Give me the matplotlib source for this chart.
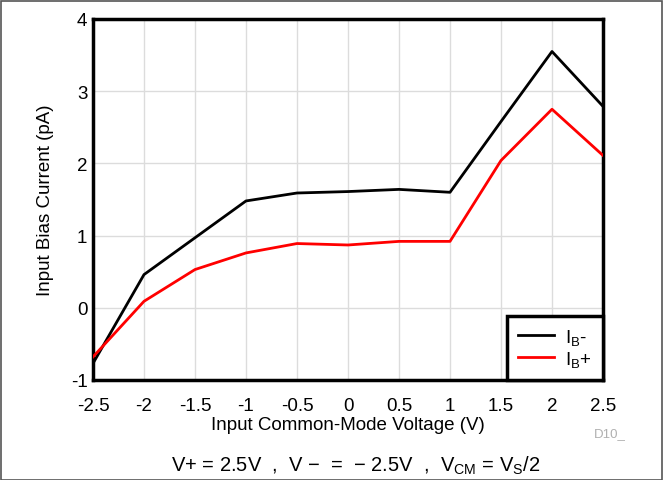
import matplotlib
matplotlib.use("Agg")
import matplotlib.pyplot as plt
from matplotlib.patches import Rectangle

plt.rcParams['font.family'] = ['Liberation Sans', 'DejaVu Sans']
plt.rcParams['mathtext.fontset'] = 'custom'
plt.rcParams['mathtext.rm'] = 'Liberation Sans'
plt.rcParams['mathtext.it'] = 'Liberation Sans'
plt.rcParams['axes.unicode_minus'] = False

# Input common-mode voltage (V)
vcm = [-2.5, -2.0, -1.5, -1.0, -0.5, 0.0, 0.5, 1.0, 1.5, 2.0, 2.5]
# Bias currents (pA)
ib_minus = [-0.77, 0.46, 0.97, 1.48, 1.59, 1.61, 1.64, 1.60, 2.58, 3.55, 2.79]
ib_plus = [-0.68, 0.09, 0.53, 0.76, 0.89, 0.87, 0.92, 0.92, 2.04, 2.75, 2.11]

x_ticks = [-2.5, -2, -1.5, -1, -0.5, 0, 0.5, 1, 1.5, 2, 2.5]
x_labels = ['-2.5', '-2', '-1.5', '-1', '-0.5', '0', '0.5', '1', '1.5', '2', '2.5']
y_ticks = [-1, 0, 1, 2, 3, 4]

fig = plt.figure(figsize=(6.66, 4.81), dpi=100)
ax = fig.add_axes([93 / 666, 1 - 381 / 481, 510 / 666, 361 / 481])

ax.plot(vcm, ib_minus, color='black', lw=2, label='I$_{\\rm B}$-', zorder=3)
ax.plot(vcm, ib_plus, color='#ff0000', lw=2, label='I$_{\\rm B}$+', zorder=3)

ax.set_xlim(-2.5, 2.5)
ax.set_ylim(-1, 4)
ax.set_xticks(x_ticks)
ax.set_xticklabels(x_labels)
ax.set_yticks(y_ticks)
ax.tick_params(length=0, labelsize=13.5)
ax.tick_params(axis='x', pad=12)
ax.tick_params(axis='y', pad=4)
ax.grid(True, color='#dcdcdc', lw=1)
ax.set_axisbelow(True)
for s in ax.spines.values():
    s.set_linewidth(2.5)

ax.set_xlabel('Input Common-Mode Voltage (V)', fontsize=13.5, labelpad=2)
ax.set_ylabel('Input Bias Current (pA)', fontsize=13.5, labelpad=12)

leg = ax.legend(loc='lower right', fontsize=13.5, frameon=True, fancybox=False,
                borderaxespad=0, handlelength=1.9, borderpad=0.6,
                labelspacing=0.1, handletextpad=0.6)
leg.get_frame().set_edgecolor('black')
leg.get_frame().set_linewidth(2.5)
leg.get_frame().set_alpha(1)

fig.text(610 / 666, 1 - 434 / 481, 'D10_', fontsize=9.5, color='#b0b0b0',
         ha='center', va='center')
fig.text(356 / 666, 1 - 466 / 481,
         'V+ = 2.5V  ,  V $-$  =  $-$ 2.5V  ,  V$_{\\rm CM}$ = V$_{\\rm S}$/2',
         fontsize=14.5, ha='center', va='center')

fig.patches.append(Rectangle((1 / 666, 0), 661 / 666, 1 - 2 / 481,
                             transform=fig.transFigure, fill=False,
                             edgecolor='#555555', lw=1.2))

fig.savefig('out.png', dpi=100)
